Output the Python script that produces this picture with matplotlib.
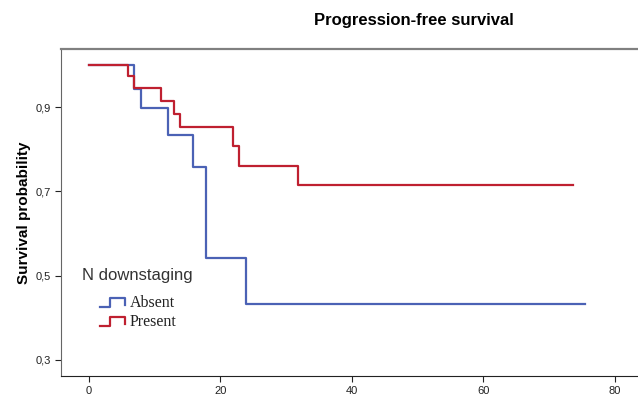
import matplotlib
matplotlib.use("Agg")
import matplotlib.pyplot as plt
from matplotlib.legend_handler import HandlerBase
from matplotlib.lines import Line2D
from matplotlib.ticker import FuncFormatter

# Kaplan-Meier step data (time in months, survival)
absent_t = [0, 6.9, 7.9, 12.0, 15.9, 17.9, 23.9, 75.5]
absent_s = [1.0, 0.944, 0.897, 0.833, 0.757, 0.541, 0.433, 0.433]
present_t = [0, 6.05, 6.9, 11.0, 13.0, 13.9, 21.9, 22.9, 31.8, 73.6]
present_s = [1.0, 0.973, 0.945, 0.915, 0.884, 0.853, 0.807, 0.761, 0.716, 0.716]

groups = ["Absent", "Present"]
colors = ["#4b62b5", "#bf2030"]
yticks = [0.3, 0.5, 0.7, 0.9]
xticks = [0, 20, 40, 60, 80]


class StepHandler(HandlerBase):
    # legend key shaped like a small step, like the SPSS output
    def create_artists(self, legend, orig, xd, yd, w, h, fontsize, trans):
        xs = [xd, xd + w * 0.4, xd + w * 0.4, xd + w, xd + w]
        ys = [yd + h * 0.0, yd + h * 0.0, yd + h * 0.9, yd + h * 0.9, yd + h * 0.2]
        ln = Line2D(xs, ys, color=orig.get_color(), lw=1.6, transform=trans)
        return [ln]


fig = plt.figure(figsize=(6.38, 4.09), dpi=100)
ax = fig.add_axes([0.0956, 0.0807, 0.9044, 0.7993])

lines = []
for t, s, c, g in zip([absent_t, present_t], [absent_s, present_s], colors, groups):
    l, = ax.step(t, s, where="post", color=c, lw=1.6, label=g)
    lines.append(l)

ax.set_xlim(-4.2, 83.5)
ax.set_ylim(0.262, 1.038)
ax.set_xticks(xticks)
ax.set_yticks(yticks)
ax.yaxis.set_major_formatter(FuncFormatter(lambda v, p: ("%.1f" % v).replace(".", ",")))
ax.tick_params(axis="both", labelsize=8, length=4, width=0.8, colors="#222222")
ax.tick_params(axis="x", pad=3)
for lab in ax.get_xticklabels() + ax.get_yticklabels():
    lab.set_family("Liberation Sans")

ax.spines["right"].set_visible(False)
ax.spines["top"].set_color("#808080")
ax.spines["top"].set_linewidth(1.6)
ax.spines["left"].set_color("#666666")
ax.spines["bottom"].set_color("#222222")

ax.set_ylabel("Survival probability", fontsize=11, fontweight="bold",
              family="Liberation Sans", labelpad=3)
fig.text(0.648, 0.951, "Progression-free survival", ha="center", va="center",
         fontsize=12, fontweight="bold", family="Liberation Sans")

ax.text(0.0364, 0.306, "N downstaging", transform=ax.transAxes, ha="left",
        va="center", fontsize=12, family="Liberation Sans", color="#333333")
leg = ax.legend(handles=lines, handler_map={Line2D: StepHandler()},
                loc="upper left", bbox_to_anchor=(0.067, 0.249), frameon=False,
                prop={"family": "Liberation Serif", "size": 11.5},
                handlelength=1.6, handleheight=0.6, handletextpad=0.3,
                labelspacing=0.2, borderpad=0.0, borderaxespad=0.0)
for txt in leg.get_texts():
    txt.set_color("#222222")

fig.savefig("out.png", dpi=100)
